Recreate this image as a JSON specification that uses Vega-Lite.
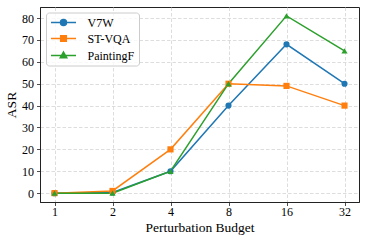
{
  "$schema": "https://vega.github.io/schema/vega-lite/v6.json",
  "autosize": {"type": "none"},
  "padding": {"left": 40, "top": 7, "right": 6, "bottom": 40},
  "width": 319,
  "height": 195,
  "background": "white",
  "config": {
    "font": "Liberation Serif",
    "view": {"stroke": "#222222", "strokeWidth": 1},
    "legend": {"labelFont": "Liberation Serif"},
    "axis": {
      "labelFont": "Liberation Serif",
      "labelFontSize": 12,
      "labelColor": "black",
      "titleFont": "Liberation Serif",
      "titleFontSize": 13.5,
      "titleFontWeight": "normal",
      "titleColor": "black",
      "domainColor": "#222222",
      "domainWidth": 1,
      "tickColor": "#222222",
      "tickSize": 3.5,
      "tickWidth": 0.8,
      "gridColor": "#d4d4d4",
      "gridDash": [3.5, 2],
      "gridWidth": 0.8
    }
  },
  "data": {
    "values": [
      {"budget": "1", "series": "V7W", "asr": 0},
      {"budget": "2", "series": "V7W", "asr": 0.3},
      {"budget": "4", "series": "V7W", "asr": 10},
      {"budget": "8", "series": "V7W", "asr": 40},
      {"budget": "16", "series": "V7W", "asr": 68},
      {"budget": "32", "series": "V7W", "asr": 50},
      {"budget": "1", "series": "ST-VQA", "asr": 0},
      {"budget": "2", "series": "ST-VQA", "asr": 1},
      {"budget": "4", "series": "ST-VQA", "asr": 20},
      {"budget": "8", "series": "ST-VQA", "asr": 50},
      {"budget": "16", "series": "ST-VQA", "asr": 49},
      {"budget": "32", "series": "ST-VQA", "asr": 40},
      {"budget": "1", "series": "PaintingF", "asr": 0},
      {"budget": "2", "series": "PaintingF", "asr": 0},
      {"budget": "4", "series": "PaintingF", "asr": 10},
      {"budget": "8", "series": "PaintingF", "asr": 50},
      {"budget": "16", "series": "PaintingF", "asr": 81},
      {"budget": "32", "series": "PaintingF", "asr": 65}
    ]
  },
  "encoding": {
    "x": {
      "field": "budget",
      "type": "ordinal",
      "sort": ["1", "2", "4", "8", "16", "32"],
      "scale": {"type": "point", "padding": 0.25},
      "axis": {"title": "Perturbation Budget", "labelAngle": 0, "labelPadding": 1, "titlePadding": 3, "grid": true}
    },
    "y": {
      "field": "asr",
      "type": "quantitative",
      "scale": {"domain": [-4.05, 85.05], "nice": false, "zero": false},
      "axis": {"title": "ASR", "values": [0, 10, 20, 30, 40, 50, 60, 70, 80], "labelPadding": 3, "titlePadding": 3, "grid": true}
    },
    "color": {
      "field": "series",
      "type": "nominal",
      "scale": {"domain": ["V7W", "ST-VQA", "PaintingF"], "range": ["#1f77b4", "#ff7f0e", "#2ca02c"]},
      "legend": null
    }
  },
  "layer": [
    {
      "mark": {"type": "line", "strokeWidth": 1.5}
    },
    {
      "mark": {"type": "point", "filled": true, "opacity": 1, "size": 38},
      "encoding": {
        "shape": {
          "field": "series",
          "type": "nominal",
          "scale": {"domain": ["V7W", "ST-VQA", "PaintingF"], "range": ["circle", "square", "triangle-up"]},
          "legend": null
        }
      }
    },
    {
      "mark": {"type": "point", "filled": true, "opacity": 0, "size": 100, "strokeWidth": 1.5},
      "encoding": {
        "color": {"value": "transparent"},
        "fill": {
          "field": "series",
          "type": "nominal",
          "scale": {"domain": ["V7W", "ST-VQA", "PaintingF"], "range": ["#1f77b4", "#ff7f0e", "#2ca02c"]},
          "legend": {
            "title": null,
            "orient": "none",
            "legendX": 6,
            "legendY": 5.5,
            "padding": 4,
            "rowPadding": 4,
            "symbolSize": 100,
            "symbolOffset": 7.5,
            "labelOffset": 18,
            "labelFont": "Liberation Serif",
            "labelFontSize": 12,
            "labelColor": "black",
            "strokeColor": "#cccccc",
            "fillColor": "rgba(255,255,255,0.8)",
            "cornerRadius": 3,
            "symbolStrokeWidth": 1.5,
            "symbolOpacity": 1
          }
        },
        "stroke": {
          "field": "series",
          "type": "nominal",
          "scale": {"domain": ["V7W", "ST-VQA", "PaintingF"], "range": ["#1f77b4", "#ff7f0e", "#2ca02c"]},
          "legend": {
            "title": null,
            "orient": "none",
            "legendX": 6,
            "legendY": 5.5,
            "padding": 4,
            "rowPadding": 4,
            "symbolSize": 100,
            "symbolOffset": 7.5,
            "labelOffset": 18,
            "labelFont": "Liberation Serif",
            "labelFontSize": 12,
            "labelColor": "black",
            "strokeColor": "#cccccc",
            "fillColor": "rgba(255,255,255,0.8)",
            "cornerRadius": 3,
            "symbolStrokeWidth": 1.5,
            "symbolOpacity": 1
          }
        },
        "shape": {
          "field": "series",
          "type": "nominal",
          "scale": {"domain": ["V7W", "ST-VQA", "PaintingF"], "range": [
            "M-2.5,0H2.5M-0.6,0A0.6,0.6,0,1,1,0.6,0A0.6,0.6,0,1,1,-0.6,0Z",
            "M-2.5,0H2.5M-0.56,-0.56H0.56V0.56H-0.56Z",
            "M-2.5,0H2.5M0,-0.7L0.65,0.45L-0.65,0.45Z"
          ]},
          "legend": {
            "title": null,
            "orient": "none",
            "legendX": 6,
            "legendY": 5.5,
            "padding": 4,
            "rowPadding": 4,
            "symbolSize": 100,
            "symbolOffset": 7.5,
            "labelOffset": 18,
            "labelFont": "Liberation Serif",
            "labelFontSize": 12,
            "labelColor": "black",
            "strokeColor": "#cccccc",
            "fillColor": "rgba(255,255,255,0.8)",
            "cornerRadius": 3,
            "symbolStrokeWidth": 1.5,
            "symbolOpacity": 1
          }
        }
      }
    }
  ],
  "resolve": {"scale": {"shape": "independent", "fill": "independent", "stroke": "independent"}}
}
